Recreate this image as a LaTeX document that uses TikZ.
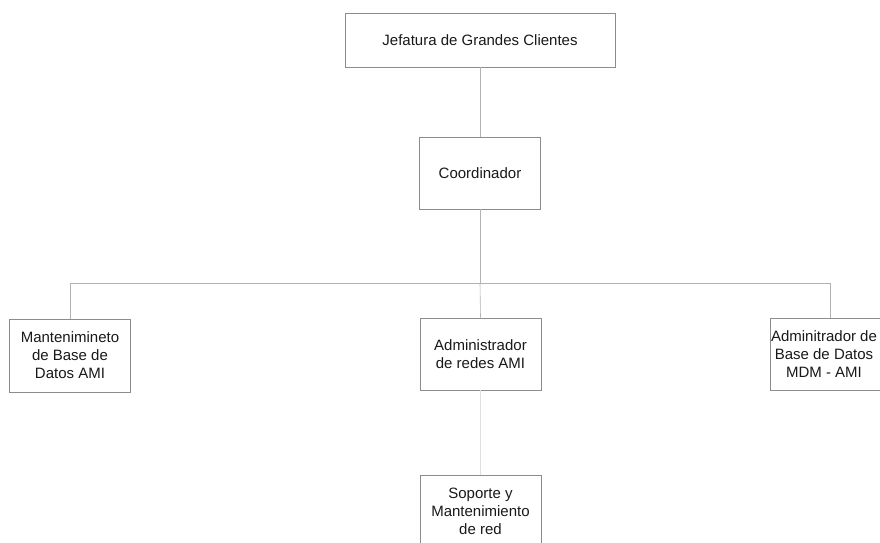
\documentclass[tikz,border=0pt]{standalone}
\usepackage{fontspec}
\setmainfont{Liberation Sans}
\begin{document}
\begin{tikzpicture}[x=1pt,y=-1pt,
  orgbox/.style={draw=black!45, line width=0.7pt, fill=white, inner sep=0pt,
    minimum width=121pt, minimum height=72pt, align=center,
    font=\fontsize{15}{18}\selectfont, text=black!90},
  orgtext/.style={inner sep=0pt, align=center,
    font=\fontsize{15}{18}\selectfont, text=black!90},
  link/.style={draw=black!30, line width=0.6pt},
  faint/.style={draw=black!12, line width=0.5pt}]
\useasboundingbox (0,0) rectangle (880,542);
\clip (0,0) rectangle (880,542);
\fill[white] (0,0) rectangle (880,542);
\node[orgbox, minimum width=270pt, minimum height=54pt] (jef) at (480,40) {Jefatura de Grandes Clientes};
\node[orgbox] (coord) at (480,173) {Coordinador};
\coordinate (bus) at (480,283);
\node[orgbox, minimum height=73pt] (mant) at (70,355.5) {Mantenimineto\\de Base de\\Datos AMI};
\node[orgbox] (admred) at (480.5,354) {Administrador\\de redes AMI};
\node[orgbox] (admbd) at (830.5,354) {};
\node[orgtext] (admbdtext) at (824,354) {Adminitrador de\\Base de Datos\\MDM - AMI};
\node[orgbox] (sop) at (480.5,511) {Soporte y\\Mantenimiento\\de red};
\draw[link] (jef.south) -- (coord.north);
\draw[link] (coord.south) -- (bus);
\draw[link] (bus) -| (mant.north);
\draw[link] (bus) -| (admbd.north);
\draw[link] (bus) -- (admred.north);
\draw[faint] (admred.south) -- (sop.north);
\end{tikzpicture}
\end{document}
